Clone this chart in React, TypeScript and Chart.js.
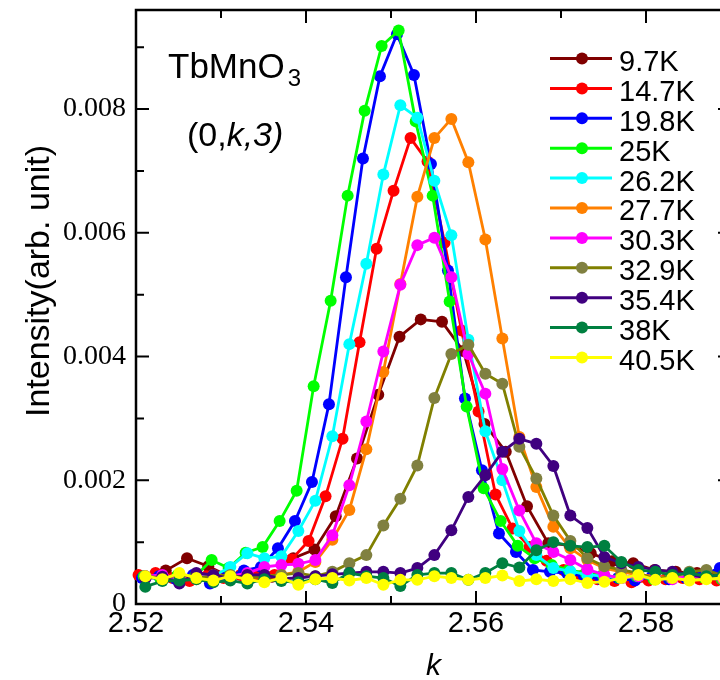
import React, { useEffect, useRef } from 'react';
import { Chart, registerables } from 'chart.js';

Chart.register(...registerables);

// Scan grid in k (step 0.002) used by most temperatures
const kGrid = [
  2.5211, 2.5231, 2.5251, 2.5271, 2.5291, 2.5311, 2.5331, 2.5351, 2.5371, 2.5391,
  2.5411, 2.5431, 2.5451, 2.5471, 2.5491, 2.5511, 2.5531, 2.5551, 2.5571, 2.5591,
  2.5611, 2.5631, 2.5651, 2.5671, 2.5691, 2.5711, 2.5731, 2.5751, 2.5771, 2.5791,
  2.5811, 2.5831, 2.5851, 2.5871, 2.5891,
];
// Scan grid for 9.7K (step 0.0025)
const kGrid97 = [
  2.5210, 2.5235, 2.5260, 2.5285, 2.5310, 2.5335, 2.5360, 2.5385, 2.5410, 2.5435,
  2.5460, 2.5485, 2.5510, 2.5535, 2.5560, 2.5585, 2.5610, 2.5635, 2.5660, 2.5685,
  2.5710, 2.5735, 2.5760, 2.5785, 2.5810, 2.5835, 2.5860, 2.5885,
];

// Intensities in units of 1e-3 (arb. unit)
const int97 = [0.41, 0.54, 0.74, 0.61, 0.44, 0.42, 0.44, 0.74, 0.88, 1.42, 2.35, 3.38, 4.32, 4.60, 4.56, 4.09, 2.91, 2.46, 1.58, 0.98, 0.95, 0.82, 0.69, 0.66, 0.55, 0.52, 0.50, 0.50];
const int147 = [0.47, 0.50, 0.42, 0.37, 0.45, 0.42, 0.47, 0.45, 0.47, 0.72, 1.02, 1.74, 2.67, 4.23, 5.74, 6.68, 7.53, 7.15, 5.84, 4.42, 3.11, 1.77, 1.22, 0.92, 0.70, 0.55, 0.45, 0.40, 0.37, 0.35, 0.38, 0.40, 0.42, 0.40, 0.38];
const int198 = [0.42, 0.45, 0.40, 0.47, 0.33, 0.45, 0.54, 0.60, 0.90, 1.34, 1.97, 3.23, 5.28, 7.20, 8.53, 9.21, 8.55, 7.11, 5.39, 3.32, 2.16, 1.14, 0.84, 0.55, 0.52, 0.50, 0.45, 0.40, 0.42, 0.38, 0.45, 0.40, 0.42, 0.47, 0.58];
const int25 = [0.45, 0.40, 0.47, 0.44, 0.71, 0.58, 0.83, 0.92, 1.34, 1.83, 3.52, 4.90, 6.60, 7.97, 9.02, 9.27, 7.80, 6.60, 4.89, 3.19, 1.87, 1.34, 0.94, 0.74, 0.63, 0.55, 0.50, 0.47, 0.42, 0.45, 0.40, 0.42, 0.45, 0.42, 0.40];
const int262 = [0.45, 0.42, 0.47, 0.44, 0.45, 0.60, 0.82, 0.74, 0.77, 1.18, 1.67, 2.71, 4.20, 5.50, 6.94, 8.06, 7.86, 6.84, 5.96, 4.27, 2.79, 2.00, 1.18, 0.79, 0.58, 0.53, 0.47, 0.45, 0.42, 0.45, 0.40, 0.42, 0.45, 0.42, 0.45];
const int277 = [0.45, 0.42, 0.45, 0.40, 0.47, 0.45, 0.42, 0.45, 0.47, 0.52, 0.68, 1.04, 1.52, 2.50, 3.75, 5.17, 6.58, 7.53, 7.84, 7.14, 5.89, 4.29, 2.70, 1.89, 1.25, 0.90, 0.71, 0.58, 0.52, 0.47, 0.45, 0.42, 0.45, 0.42, 0.40];
const int303 = [0.45, 0.47, 0.42, 0.45, 0.42, 0.45, 0.50, 0.60, 0.63, 0.65, 0.71, 1.11, 1.92, 2.95, 4.08, 5.16, 5.80, 5.92, 5.28, 4.04, 3.40, 2.18, 1.51, 0.98, 0.84, 0.71, 0.56, 0.47, 0.42, 0.45, 0.42, 0.40, 0.45, 0.42, 0.40];
const int329 = [0.45, 0.42, 0.47, 0.42, 0.45, 0.47, 0.42, 0.45, 0.47, 0.50, 0.45, 0.52, 0.66, 0.79, 1.27, 1.70, 2.24, 3.33, 4.04, 4.19, 3.72, 3.56, 2.54, 2.03, 1.43, 1.02, 0.74, 0.61, 0.55, 0.50, 0.40, 0.45, 0.52, 0.55, 0.45];
const int354 = [0.41, 0.44, 0.33, 0.50, 0.47, 0.41, 0.47, 0.47, 0.41, 0.42, 0.45, 0.48, 0.50, 0.52, 0.52, 0.50, 0.58, 0.79, 1.19, 1.73, 2.08, 2.46, 2.67, 2.59, 2.23, 1.43, 1.23, 0.76, 0.66, 0.60, 0.55, 0.52, 0.48, 0.42, 0.45];
const int38 = [0.28, 0.37, 0.38, 0.40, 0.35, 0.38, 0.33, 0.40, 0.37, 0.35, 0.40, 0.34, 0.50, 0.45, 0.42, 0.29, 0.47, 0.50, 0.50, 0.39, 0.50, 0.66, 0.59, 0.87, 1.00, 0.94, 0.92, 0.94, 0.68, 0.55, 0.52, 0.47, 0.50, 0.45, 0.47];
const int405 = [0.45, 0.40, 0.50, 0.42, 0.38, 0.45, 0.40, 0.35, 0.42, 0.31, 0.40, 0.42, 0.38, 0.42, 0.31, 0.39, 0.39, 0.45, 0.42, 0.39, 0.42, 0.46, 0.37, 0.40, 0.37, 0.40, 0.34, 0.36, 0.42, 0.47, 0.39, 0.42, 0.38, 0.40, 0.42];

const seriesLabels = ['9.7K', '14.7K', '19.8K', '25K', '26.2K', '27.7K', '30.3K', '32.9K', '35.4K', '38K', '40.5K'];
const seriesColors = ['#800000', '#ff0000', '#0000ff', '#00ff00', '#00ffff', '#ff8000', '#ff00ff', '#808000', '#400080', '#008040', '#ffff00'];
const seriesPointColors = ['#800000', '#ff0000', '#0000ff', '#00ff00', '#00ffff', '#ff8000', '#ff00ff', '#808040', '#400080', '#008040', '#ffff00'];
const seriesValues = [int97, int147, int198, int25, int262, int277, int303, int329, int354, int38, int405];
const seriesGrids = [kGrid97, kGrid, kGrid, kGrid, kGrid, kGrid, kGrid, kGrid, kGrid, kGrid, kGrid];
const seriesKOffset = [0, -0.0008, -0.0004, -0.0002, 0, 0, 0, 0, 0, 0, 0];

const xMin = 2.52, xMax = 2.59, xStep = 0.01;
const yMin = 0, yMax = 0.0096, yStep = 0.001;

const SANS = '"Liberation Sans", Arial, Helvetica, sans-serif';
const SERIF = '"Liberation Serif", "Times New Roman", serif';

const isMultiple = (v: number, step: number) => Math.abs(v / step - Math.round(v / step)) < 1e-6;

const framePlugin = {
  id: 'frame',
  beforeDatasetsDraw(chart: any) {
    const { ctx, chartArea, scales } = chart;
    const { left, right, top, bottom } = chartArea;
    const x = scales.x, y = scales.y;
    ctx.save();
    ctx.strokeStyle = '#000';
    ctx.lineWidth = 2.5;
    ctx.strokeRect(left, top, right - left, bottom - top);
    ctx.lineWidth = 2;
    ctx.beginPath();
    x.ticks.forEach((t: any) => {
      const px = x.getPixelForValue(t.value);
      const len = isMultiple(t.value, 0.02) ? 13 : 8;
      ctx.moveTo(px, bottom); ctx.lineTo(px, bottom - len);
      ctx.moveTo(px, top); ctx.lineTo(px, top + len);
    });
    y.ticks.forEach((t: any) => {
      const py = y.getPixelForValue(t.value);
      const len = isMultiple(t.value, 0.002) ? 13 : 8;
      ctx.moveTo(left, py); ctx.lineTo(left + len, py);
      ctx.moveTo(right, py); ctx.lineTo(right - len, py);
    });
    ctx.stroke();
    ctx.restore();
  },
};

const overlayPlugin = {
  id: 'overlay',
  afterDraw(chart: any) {
    const { ctx, chartArea } = chart;
    ctx.save();
    ctx.fillStyle = '#000';
    ctx.textBaseline = 'alphabetic';
    ctx.textAlign = 'left';
    // Compound annotation
    ctx.font = `35px ${SANS}`;
    ctx.fillText('TbMnO', 168, 78);
    const w = ctx.measureText('TbMnO').width;
    ctx.font = `24px ${SANS}`;
    ctx.fillText('3', 168 + w + 3, 86);
    // (0,k,3)
    let cx = 187;
    ctx.font = `34px ${SANS}`;
    ctx.fillText('(0,', cx, 146);
    cx += ctx.measureText('(0,').width;
    ctx.font = `italic 34px ${SANS}`;
    ctx.fillText('k,3)', cx, 146);

    // Legend
    seriesLabels.forEach((lab, i) => {
      const ly = 58.5 + i * 29.9;
      ctx.strokeStyle = seriesColors[i];
      ctx.lineWidth = 3;
      ctx.beginPath();
      ctx.moveTo(550, ly); ctx.lineTo(612, ly);
      ctx.stroke();
      ctx.fillStyle = seriesPointColors[i];
      ctx.beginPath();
      ctx.arc(582, ly, 6, 0, Math.PI * 2);
      ctx.fill();
      ctx.fillStyle = '#000';
      ctx.font = `29px ${SANS}`;
      ctx.fillText(lab, 619, ly + 12.4);
    });

    // Axis titles
    ctx.font = `italic 30px ${SANS}`;
    ctx.textAlign = 'center';
    ctx.fillText('k', (chartArea.left + chartArea.right) / 2, 675);
    ctx.save();
    ctx.translate(49, 281);
    ctx.rotate(-Math.PI / 2);
    ctx.font = `34px ${SANS}`;
    ctx.fillText('Intensity(arb. unit)', 0, 0);
    ctx.restore();
    ctx.restore();
  },
};

export default function App() {
  const ref = useRef<HTMLCanvasElement | null>(null);

  useEffect(() => {
    if (!ref.current) return;
    const datasets = seriesLabels.map((label, i) => ({
      label,
      data: seriesValues[i].map((v, j) => ({ x: seriesGrids[i][j] + seriesKOffset[i], y: v * 1e-3 })),
      borderColor: seriesColors[i],
      backgroundColor: seriesPointColors[i],
      pointBackgroundColor: seriesPointColors[i],
      pointBorderColor: seriesPointColors[i],
      pointBorderWidth: 0,
      pointRadius: 6,
      borderWidth: 2.8,
      tension: 0,
      fill: false,
      clip: false as any,
      order: seriesLabels.length - i,
    }));

    const chart = new Chart(ref.current, {
      type: 'line',
      data: { datasets },
      options: {
        animation: false,
        responsive: false,
        devicePixelRatio: 1,
        layout: { padding: { left: 0, top: 10, right: 9, bottom: 0 } },
        plugins: { legend: { display: false }, tooltip: { enabled: false } },
        scales: {
          x: {
            type: 'linear',
            min: xMin,
            max: xMax,
            grid: { display: false, drawTicks: false },
            border: { display: false },
            ticks: {
              stepSize: xStep,
              includeBounds: false,
              autoSkip: false,
              maxRotation: 0,
              padding: 3,
              color: '#000',
              font: { family: SANS, size: 29 },
              callback: (v: any) => (isMultiple(Number(v), 0.02) ? Number(v).toFixed(2) : ''),
            },
            afterFit: (s: any) => { s.height = 76; s.paddingLeft = 0; s.paddingRight = 0; },
          },
          y: {
            type: 'linear',
            min: yMin,
            max: yMax,
            grid: { display: false, drawTicks: false },
            border: { display: false },
            ticks: {
              stepSize: yStep,
              includeBounds: false,
              autoSkip: false,
              padding: 10,
              color: '#000',
              font: { family: SERIF, size: 28 },
              callback: (v: any) => {
                const n = Number(v);
                if (!isMultiple(n, 0.002)) return '';
                return Math.abs(n) < 1e-9 ? '0' : n.toFixed(3);
              },
            },
            afterFit: (s: any) => { s.width = 136; s.paddingTop = 0; s.paddingBottom = 0; },
          },
        },
      },
      plugins: [framePlugin, overlayPlugin],
    });
    return () => chart.destroy();
  }, []);

  return (
    <div style={{ position: 'fixed', left: 0, top: 0, width: 720, height: 680, overflow: 'hidden', background: '#fff' }}>
      <canvas ref={ref} width={740} height={680} style={{ display: 'block', width: 740, height: 680 }} />
    </div>
  );
}
